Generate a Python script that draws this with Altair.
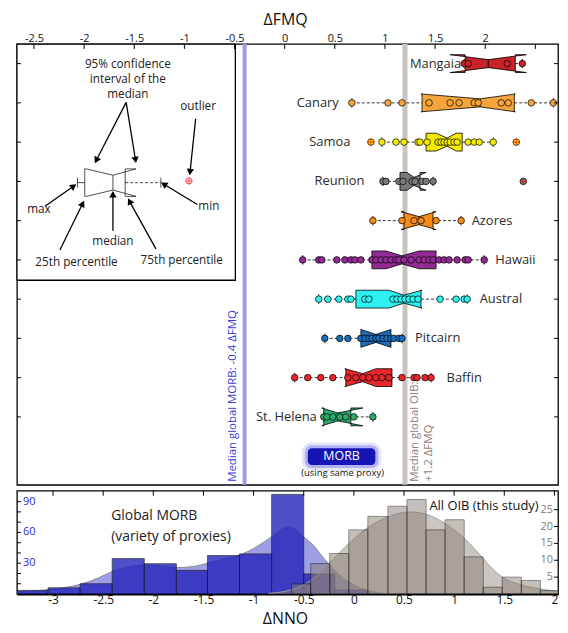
import math
import altair as alt
import pandas as pd

FONT = "Open Sans"

# ---------------- box-plot data (x = ΔFMQ) ----------------
groups = ["Mangaia", "Canary", "Samoa", "Reunion", "Azores",
          "Hawaii", "Austral", "Pitcairn", "Baffin", "St. Helena"]
rows = [10, 9, 8, 7, 6, 5, 4, 3, 2, 1]
colors = ["#c8222b", "#f6a53c", "#f3ea00", "#7a7a7a", "#f38a1a",
          "#922c94", "#2ef0f0", "#1b6db8", "#e8262b", "#2fa86c"]
q1 = [1.80, 1.37, 1.41, 1.15, 1.19, 0.87, 0.71, 0.76, 0.61, 0.39]
median = [2.03, 1.95, 1.62, 1.29, 1.34, 1.17, 1.19, 0.91, 0.78, 0.53]
q3 = [2.30, 2.29, 1.77, 1.35, 1.48, 1.51, 1.36, 1.06, 1.07, 0.66]
ci_lo = [1.65, 1.36, 1.51, 1.22, 1.16, 1.01, 1.04, 0.76, 0.60, 0.37]
ci_hi = [2.41, 2.30, 1.71, 1.41, 1.51, 1.34, 1.37, 1.06, 0.91, 0.78]
whisk_lo = [1.79, 0.67, 0.97, 0.98, 0.88, 0.18, 0.34, 0.40, 0.10, 0.39]
whisk_hi = [2.37, 2.68, 2.08, 1.48, 1.76, 1.99, 1.82, 1.17, 1.46, 0.88]

pts_mangaia = [1.79, 1.83, 2.22, 2.37]
pts_canary = [0.67, 1.03, 1.17, 1.44, 1.65, 1.74, 1.89, 1.93, 2.16, 2.23, 2.46, 2.68]
pts_samoa = [0.86, 0.97, 1.11, 1.19, 1.33, 1.35, 1.42, 1.53, 1.56, 1.59, 1.62,
             1.65, 1.69, 1.72, 1.83, 1.89, 1.94, 2.08, 2.31]
pts_reunion = [0.98, 1.01, 1.14, 1.18, 1.27, 1.30, 1.37, 1.41, 1.48, 2.38]
pts_azores = [0.88, 1.17, 1.29, 1.36, 1.51, 1.76]
pts_hawaii = [0.18, 0.34, 0.37, 0.52, 0.60, 0.66, 0.70, 0.76, 0.87, 0.91, 0.96,
              1.01, 1.06, 1.11, 1.14, 1.19, 1.26, 1.34, 1.39, 1.44, 1.48, 1.54,
              1.59, 1.64, 1.72, 1.80, 1.83, 1.99]
pts_austral = [0.34, 0.43, 0.54, 0.63, 0.66, 0.80, 0.84, 1.08, 1.12, 1.16, 1.20,
               1.24, 1.28, 1.33, 1.55, 1.71, 1.79, 1.82]
pts_pitcairn = [0.40, 0.55, 0.63, 0.76, 0.80, 0.84, 0.87, 0.91, 0.94, 0.98, 1.02,
                1.06, 1.09, 1.14, 1.17]
pts_baffin = [0.10, 0.23, 0.36, 0.48, 0.63, 0.71, 0.78, 0.84, 0.91, 0.97, 1.04,
              1.17, 1.29, 1.32, 1.40, 1.46]
pts_sthelena = [0.39, 0.42, 0.48, 0.55, 0.61, 0.69, 0.88]
group_points = [pts_mangaia, pts_canary, pts_samoa, pts_reunion, pts_azores,
                pts_hawaii, pts_austral, pts_pitcairn, pts_baffin, pts_sthelena]
outlier_group = ["Samoa", "Samoa", "Reunion"]
outlier_x = [0.86, 2.31, 2.38]

label_x = [1.76, 0.54, 0.655, 0.795, 1.865, 2.10, 1.945, 1.30, 1.615, 0.32]
label_side = ["end", "end", "end", "end", "start", "start", "start", "start", "start", "end"]

fmq_ticks = [-2.5, -2, -1.5, -1, -0.5, 0, 0.5, 1, 1.5, 2]
fmq_inner_ticks = [-2.5, -2, -1.5, -1, -0.5, 0, 0.5, 1, 1.5, 2, 2.5]
ref_lines = [-0.4, 1.2]

# ---------------- histogram data (x = ΔNNO) ----------------
morb_lo = [-3.37, -3.05, -2.73, -2.41, -2.09, -1.77, -1.46, -1.14, -0.82, -0.50, -0.19]
morb_hi = [-3.05, -2.73, -2.41, -2.09, -1.77, -1.46, -1.14, -0.82, -0.50, -0.19, 0.13]
morb_count = [3.5, 6, 10, 34.5, 29.5, 23, 37.5, 39, 97, 19.5, 4]
morb_kde_x = [-3.37, -3.05, -2.72, -2.55, -2.41, -2.22, -2.09, -1.93, -1.76, -1.60,
              -1.46, -1.30, -1.14, -0.97, -0.82, -0.70, -0.66, -0.59, -0.50, -0.39,
              -0.30, -0.19, -0.06, 0.07, 0.20, 0.33, 0.45]
morb_kde_y = [2.4, 4.2, 9.7, 15.5, 22, 26.8, 28.4, 27.4, 25.8, 26.8,
              30, 33.9, 38, 46, 55.8, 64, 65.5, 63, 55.8, 46,
              34.8, 22.9, 12.3, 5.8, 1.9, 0.3, 0]
oib_lo = [-0.62, -0.43, -0.24, -0.05, 0.14, 0.34, 0.53, 0.72, 0.91, 1.10, 1.29, 1.48, 1.67, 1.86]
oib_hi = [-0.43, -0.24, -0.05, 0.14, 0.34, 0.53, 0.72, 0.91, 1.10, 1.29, 1.48, 1.67, 1.86, 2.05]
oib_count = [3, 9, 12, 19, 23, 26, 28, 19, 22, 11, 2, 5, 4, 1]
oib_kde_x = [-0.85, -0.62, -0.42, -0.23, -0.04, 0.15, 0.34, 0.56, 0.72, 0.91, 1.00,
             1.10, 1.20, 1.29, 1.38, 1.48, 1.67, 1.86, 2.05]
oib_kde_y = [0.2, 1.3, 4.2, 9.6, 15.2, 19.9, 22.8, 24.3, 23.6, 20.9, 19,
             16.5, 13.5, 10.5, 7.5, 5, 2.7, 1.5, 0.7]
nno_ticks = [-3, -2.5, -2, -1.5, -1, -0.5, 0, 0.5, 1, 1.5, 2]
morb_ticks = [10, 20, 30, 40, 50, 60, 70, 80, 90]
morb_labels = [30, 60, 90]
oib_ticks = [5, 10, 15, 20, 25]

# ---------------- inset sketch (positions in reference-figure pixels) ----------------
inset_frame = [15, 41, 235, 280]
sk_q1, sk_clo, sk_med, sk_q3, sk_chi = 83.3, 85.0, 111.7, 124.0, 135.0
sk_yc, sk_half, sk_pinch = 181.2, 13.9, 0.54
sk_wlo, sk_whi = 76.0, 160.0
sk_out_x, sk_out_y = 188.3, 179.5
arrow_x0 = [125, 125, 195, 43.3, 196.7, 111.7, 58.3, 155]
arrow_y0 = [100, 100, 116.7, 205, 203.3, 230, 249.3, 248.3]
arrow_x1 = [93.3, 135, 189, 75, 160, 111.7, 82.7, 126.7]
arrow_y1 = [161.7, 161.7, 174, 182.7, 181, 189.5, 199.3, 197]
inset_text = ["95% confidence", "interval of the", "median", "outlier", "max", "min",
              "median", "25th percentile", "75th percentile"]
inset_tx = [126.7, 126.7, 126.7, 197.5, 37.2, 208.3, 111.7, 75, 181]
inset_ty = [60.8, 76.7, 92, 104, 208.3, 205, 240, 261.7, 259.5]


def fx(px):
    return (px - 284.67) / 101.0


def fy(py):
    return 1 + (418.3 - py) / 39.73


# ---------------- scales / axes ----------------
W, H_MAIN, H_HIST = 545, 444, 104
BOX_H = 0.227
PINCH = 0.45
fmq_scale = alt.Scale(domain=[-2.67, 2.726], nice=False, zero=False)
row_scale = alt.Scale(domain=[-0.73, 10.5], nice=False, zero=False)
nno_scale = alt.Scale(domain=[-3.36, 2.036], nice=False, zero=False)
morb_scale = alt.Scale(domain=[0, 100.6], nice=False, zero=False)
oib_scale = alt.Scale(domain=[0, 30.6], nice=False, zero=False)

top_axis = alt.Axis(orient="top", title="ΔFMQ", values=fmq_ticks,
                    labelExpr="toString(datum.value)", ticks=False, domain=False,
                    grid=False, labelFont=FONT, titleFont=FONT, labelFontSize=11,
                    titleFontSize=16, titleFontWeight="normal", labelPadding=1,
                    titlePadding=5, labelColor="#111", titleColor="#111",
                    labelFlush=False, labelOverlap=False, titleX=270)
bottom_axis = alt.Axis(orient="bottom", title="ΔNNO", values=nno_ticks,
                       labelExpr="toString(datum.value)", ticks=False, domain=True,
                       domainColor="black", domainWidth=2.2, grid=False,
                       labelFont=FONT, titleFont=FONT, labelFontSize=12,
                       titleFontSize=16, titleFontWeight="normal", labelPadding=1,
                       titlePadding=5, labelColor="#111", titleColor="#111",
                       labelFlush=False, labelOverlap=False, titleX=270)


def X(f):
    return alt.X(f, type="quantitative", scale=fmq_scale, axis=top_axis)


def Y(f):
    return alt.Y(f, type="quantitative", scale=row_scale, axis=None)


def XN(f):
    return alt.X(f, type="quantitative", scale=nno_scale, axis=bottom_axis)


def notch(lo, clo, md, chi, hi, yc, h, p):
    xs = [lo, clo, md, chi, hi, hi, chi, md, clo, lo]
    ys = [yc + h, yc + h, yc + p * h, yc + h, yc + h,
          yc - h, yc - h, yc - p * h, yc - h, yc - h]
    return xs, ys


layers = []

# reference vertical lines
layers.append(alt.Chart(pd.DataFrame({"x": [ref_lines[0]]})).mark_rule(
    color="#9c9ce6", strokeWidth=4).encode(x=X("x")))
layers.append(alt.Chart(pd.DataFrame({"x": [ref_lines[1]]})).mark_rule(
    color="#c8c3bc", strokeWidth=5).encode(x=X("x")))

# whiskers
wl = pd.DataFrame({"x": whisk_lo, "x2": q1, "y": rows})
wh = pd.DataFrame({"x": q3, "x2": whisk_hi, "y": rows})
for d in (wl, wh):
    layers.append(alt.Chart(d).mark_rule(color="black", strokeWidth=0.8, strokeDash=[3, 2])
                  .encode(x=X("x"), x2=alt.X2("x2"), y=Y("y")))
caps = pd.DataFrame({"x": whisk_lo + whisk_hi, "y": rows + rows})
caps["y1"] = caps["y"] - 0.12
caps["y2"] = caps["y"] + 0.12
layers.append(alt.Chart(caps).mark_rule(color="black", strokeWidth=0.9)
              .encode(x=X("x"), y=Y("y1"), y2=alt.Y2("y2")))

# notched boxes
for i, g in enumerate(groups):
    xs, ys = notch(q1[i], ci_lo[i], median[i], ci_hi[i], q3[i], rows[i], BOX_H, PINCH)
    d = pd.DataFrame({"x": xs, "y": ys, "o": list(range(len(xs)))})
    layers.append(alt.Chart(d).mark_line(interpolate="linear-closed", fill=colors[i],
                                         stroke="black", strokeWidth=0.8)
                  .encode(x=X("x"), y=Y("y"), order=alt.Order("o:Q")))
med = pd.DataFrame({"x": median, "y1": [r - PINCH * BOX_H for r in rows],
                    "y2": [r + PINCH * BOX_H for r in rows]})
layers.append(alt.Chart(med).mark_rule(color="black", strokeWidth=1)
              .encode(x=X("x"), y=Y("y1"), y2=alt.Y2("y2")))

# data points
prow = []
for i, g in enumerate(groups):
    for v in group_points[i]:
        prow.append({"g": g, "x": v, "y": rows[i]})
pdf = pd.DataFrame(prow)
layers.append(alt.Chart(pdf).mark_circle(size=44, stroke="black", strokeWidth=0.7, opacity=1)
              .encode(x=X("x"), y=Y("y"),
                      color=alt.Color("g:N", scale=alt.Scale(domain=groups, range=colors),
                                      legend=None)))
odf = pd.DataFrame({"x": outlier_x, "y": [rows[groups.index(g)] for g in outlier_group]})
layers.append(alt.Chart(odf).mark_point(shape="M-1,0L1,0M0,-1L0,1", size=55, color="red",
                                        strokeWidth=1.1, filled=False)
              .encode(x=X("x"), y=Y("y")))

# group labels
ldf = pd.DataFrame({"t": groups, "x": label_x, "y": rows, "s": label_side})
for side, al in (("end", "right"), ("start", "left")):
    layers.append(alt.Chart(ldf[ldf.s == side]).mark_text(
        align=al, baseline="middle", font=FONT, fontSize=13, color="#2b2b2b")
        .encode(x=X("x"), y=Y("y"), text="t:N"))

# MORB glow box
mb = [308, 450, 376, 467]
for pad, op in ((6, 0.15), (3, 0.35), (0, 1.0)):
    d = pd.DataFrame({"x": [fx(mb[0] - pad)], "x2": [fx(mb[2] + pad)],
                      "y": [fy(mb[1] - pad)], "y2": [fy(mb[3] + pad)]})
    layers.append(alt.Chart(d).mark_rect(color="#1515b5" if pad == 0 else "#5050e0",
                                         opacity=op, cornerRadius=4 + pad)
                  .encode(x=X("x"), x2=alt.X2("x2"), y=Y("y"), y2=alt.Y2("y2")))
layers.append(alt.Chart(pd.DataFrame({"x": [fx(342)], "y": [fy(458)], "t": ["MORB"]}))
              .mark_text(font=FONT, fontSize=12.5, color="white", baseline="middle")
              .encode(x=X("x"), y=Y("y"), text="t:N"))
layers.append(alt.Chart(pd.DataFrame({"x": [fx(343)], "y": [fy(475)], "t": ["(using same proxy)"]}))
              .mark_text(font=FONT, fontSize=9.5, color="#111", baseline="middle")
              .encode(x=X("x"), y=Y("y"), text="t:N"))

# rotated reference-line labels
rot = pd.DataFrame({"x": [fx(233)], "y": [fy(484)], "t": ["Median global MORB: -0.4 ΔFMQ"]})
layers.append(alt.Chart(rot).mark_text(angle=270, align="left", baseline="middle", font=FONT,
                                       fontSize=11.5, color="#3b3bd6")
              .encode(x=X("x"), y=Y("y"), text="t:N"))
rot2 = pd.DataFrame({"x": [fx(416), fx(430)], "y": [fy(484), fy(484)],
                     "t": ["Median global OIB:", "+1.2 ΔFMQ"]})
layers.append(alt.Chart(rot2).mark_text(angle=270, align="left", baseline="middle", font=FONT,
                                        fontSize=11.5, color="#8c8279")
              .encode(x=X("x"), y=Y("y"), text="t:N"))

# inset legend frame and sketch
fr = pd.DataFrame({"x": [fx(inset_frame[0])], "x2": [fx(inset_frame[2])],
                   "y": [fy(inset_frame[1])], "y2": [fy(inset_frame[3])]})
layers.append(alt.Chart(fr).mark_rect(fill="white", stroke="black", strokeWidth=1.3)
              .encode(x=X("x"), x2=alt.X2("x2"), y=Y("y"), y2=alt.Y2("y2")))
sx, sy = notch(sk_q1, sk_clo, sk_med, sk_chi, sk_q3, sk_yc, sk_half, sk_pinch)
sk = pd.DataFrame({"x": [fx(v) for v in sx], "y": [fy(v) for v in sy], "o": list(range(len(sx)))})
layers.append(alt.Chart(sk).mark_line(interpolate="linear-closed", stroke="#222", strokeWidth=0.8)
              .encode(x=X("x"), y=Y("y"), order=alt.Order("o:Q")))
skm = pd.DataFrame({"x": [fx(sk_med)], "y1": [fy(sk_yc - sk_pinch * sk_half)],
                    "y2": [fy(sk_yc + sk_pinch * sk_half)]})
layers.append(alt.Chart(skm).mark_rule(color="#222", strokeWidth=0.8)
              .encode(x=X("x"), y=Y("y1"), y2=alt.Y2("y2")))
skw1 = pd.DataFrame({"x": [fx(sk_wlo)], "x2": [fx(sk_q1)], "y": [fy(sk_yc)]})
layers.append(alt.Chart(skw1).mark_rule(color="#222", strokeWidth=0.8)
              .encode(x=X("x"), x2=alt.X2("x2"), y=Y("y")))
skw2 = pd.DataFrame({"x": [fx(sk_q3)], "x2": [fx(sk_whi)], "y": [fy(sk_yc)]})
layers.append(alt.Chart(skw2).mark_rule(color="#222", strokeWidth=0.8, strokeDash=[3, 2])
              .encode(x=X("x"), x2=alt.X2("x2"), y=Y("y")))
skc = pd.DataFrame({"x": [fx(sk_wlo), fx(sk_whi)], "y1": [fy(sk_yc - 5)] * 2, "y2": [fy(sk_yc + 5)] * 2})
layers.append(alt.Chart(skc).mark_rule(color="#222", strokeWidth=0.8)
              .encode(x=X("x"), y=Y("y1"), y2=alt.Y2("y2")))
sko = pd.DataFrame({"x": [fx(sk_out_x)], "y": [fy(sk_out_y)]})
layers.append(alt.Chart(sko).mark_point(shape="circle", size=40, color="red", strokeWidth=1,
                                        filled=False).encode(x=X("x"), y=Y("y")))
layers.append(alt.Chart(sko).mark_point(shape="M-1,0L1,0M0,-1L0,1", size=40, color="red",
                                        strokeWidth=1, filled=False).encode(x=X("x"), y=Y("y")))

# arrows
arows, heads = [], []
for a, b, c, d in zip(arrow_x0, arrow_y0, arrow_x1, arrow_y1):
    dx, dy = c - a, d - b
    L = math.hypot(dx, dy)
    ux, uy = dx / L, dy / L
    arows.append({"x": fx(a), "y": fy(b), "x2": fx(c - 5 * ux), "y2": fy(d - 5 * uy)})
    ang = math.degrees(math.atan2(dx, -dy)) % 360
    heads.append({"x": fx(c - 3.5 * ux), "y": fy(d - 3.5 * uy), "a": ang})
layers.append(alt.Chart(pd.DataFrame(arows)).mark_rule(color="black", strokeWidth=1.3)
              .encode(x=X("x"), y=Y("y"), x2=alt.X2("x2"), y2=alt.Y2("y2")))
layers.append(alt.Chart(pd.DataFrame(heads)).mark_point(shape="triangle-up", size=55, filled=True,
                                                        color="black", opacity=1)
              .encode(x=X("x"), y=Y("y"), angle=alt.Angle("a:Q", scale=None)))
itx = pd.DataFrame({"t": inset_text, "x": [fx(v) for v in inset_tx], "y": [fy(v) for v in inset_ty]})
layers.append(alt.Chart(itx).mark_text(font=FONT, fontSize=11.8, color="#222", baseline="middle")
              .encode(x=X("x"), y=Y("y"), text="t:N"))

# inner ticks of the main frame
layers.append(alt.Chart(pd.DataFrame({"v": fmq_inner_ticks})).mark_rule(color="black", strokeWidth=1)
              .encode(x=X("v"), y=alt.value(0), y2=alt.value(5)))
rt = pd.DataFrame({"v": rows})
layers.append(alt.Chart(rt).mark_rule(color="black", strokeWidth=1)
              .encode(y=Y("v"), x=alt.value(0), x2=alt.value(4)))
layers.append(alt.Chart(rt).mark_rule(color="black", strokeWidth=1)
              .encode(y=Y("v"), x=alt.value(W - 4), x2=alt.value(W)))

main = alt.layer(*layers).properties(width=W, height=H_MAIN)

# ---------------- histogram panel ----------------
YM = lambda f: alt.Y(f, type="quantitative", scale=morb_scale, axis=None)
YO = lambda f: alt.Y(f, type="quantitative", scale=oib_scale, axis=None)
hl = []
mk = pd.DataFrame({"x": morb_kde_x, "y": morb_kde_y})
hl.append(alt.Chart(mk).mark_area(interpolate="monotone", color="#3030c6", opacity=0.47, clip=True)
          .encode(x=XN("x"), y=YM("y")))
hl.append(alt.Chart(mk).mark_line(interpolate="monotone", color="#8a8a8a", strokeWidth=1, clip=True)
          .encode(x=XN("x"), y=YM("y")))
mh = pd.DataFrame({"lo": morb_lo, "hi": morb_hi, "c": morb_count})
hl.append(alt.Chart(mh).mark_rect(color="#2424bc", opacity=0.8, stroke="#111", strokeWidth=0.8, clip=True)
          .encode(x=XN("lo"), x2=alt.X2("hi"), y=YM("c"), y2=alt.datum(0)))
ok = pd.DataFrame({"x": oib_kde_x, "y": oib_kde_y})
hl.append(alt.Chart(ok).mark_area(interpolate="monotone", color="#8f857c", opacity=0.47, clip=True)
          .encode(x=XN("x"), y=YO("y")))
hl.append(alt.Chart(ok).mark_line(interpolate="monotone", color="#9a9a9a", strokeWidth=1, clip=True)
          .encode(x=XN("x"), y=YO("y")))
oh = pd.DataFrame({"lo": oib_lo, "hi": oib_hi, "c": oib_count})
hl.append(alt.Chart(oh).mark_rect(color="#8b7f75", opacity=0.5, stroke="#111", strokeWidth=1, clip=True)
          .encode(x=XN("lo"), x2=alt.X2("hi"), y=YO("c"), y2=alt.datum(0)))
# axis ticks/labels drawn inside the frame
hl.append(alt.Chart(pd.DataFrame({"v": nno_ticks})).mark_rule(color="black", strokeWidth=1)
          .encode(x=XN("v"), y=alt.value(0), y2=alt.value(5)))
hl.append(alt.Chart(pd.DataFrame({"v": morb_ticks})).mark_rule(color="black", strokeWidth=1)
          .encode(y=YM("v"), x=alt.value(0), x2=alt.value(4)))
hl.append(alt.Chart(pd.DataFrame({"v": morb_labels})).mark_text(align="left", baseline="middle", font=FONT,
                                                                fontSize=11, color="#2b2bd0")
          .encode(y=YM("v"), x=alt.value(6), text="v:Q"))
hl.append(alt.Chart(pd.DataFrame({"v": oib_ticks})).mark_rule(color="black", strokeWidth=1)
          .encode(y=YO("v"), x=alt.value(W - 4), x2=alt.value(W)))
hl.append(alt.Chart(pd.DataFrame({"v": oib_ticks})).mark_text(align="right", baseline="middle", font=FONT,
                                                              fontSize=11, color="#8a7a6e")
          .encode(y=YO("v"), x=alt.value(W - 5), text="v:Q"))
ht = pd.DataFrame({"x": [-2.42, -2.42], "y": [75.5, 56], "t": ["Global MORB", "(variety of proxies)"]})
hl.append(alt.Chart(ht).mark_text(align="left", baseline="middle", font=FONT, fontSize=14, color="#222")
          .encode(x=XN("x"), y=YM("y"), text="t:N"))
ht2 = pd.DataFrame({"x": [0.754], "y": [85.5], "t": ["All OIB (this study)"]})
hl.append(alt.Chart(ht2).mark_text(align="left", baseline="middle", font=FONT, fontSize=13, color="#111")
          .encode(x=XN("x"), y=YM("y"), text="t:N"))

hist = alt.layer(*hl).resolve_scale(y="independent").properties(width=W, height=H_HIST)

chart = (alt.vconcat(main, hist, spacing=0)
         .properties(padding={"left": 7, "top": 0, "right": 0, "bottom": 0}, background="white")
         .configure_view(stroke="black", strokeWidth=1.3))

chart.save("out.html", embed_options={"renderer": "svg", "actions": False})
